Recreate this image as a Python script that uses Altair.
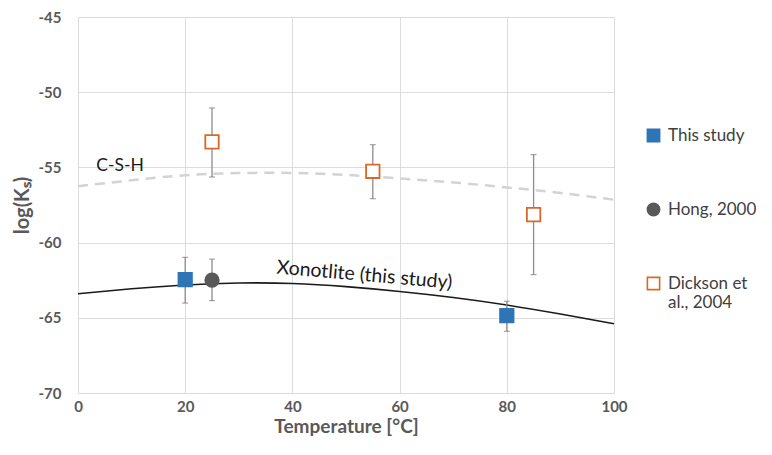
import altair as alt
import pandas as pd

# Model curves
curve_temp = [0, 10, 20, 30, 40, 50, 60, 70, 80, 90, 100]
xonotlite_logk = [-63.4, -63.07, -62.82, -62.69, -62.72, -62.93, -63.25, -63.65, -64.15, -64.75, -65.4]
csh_logk = [-56.25, -55.86, -55.52, -55.38, -55.37, -55.5, -55.74, -56.0, -56.33, -56.7, -57.15]

# Measured data
pt_series = ["This study", "This study", "Hong, 2000",
             "Dickson et al., 2004", "Dickson et al., 2004", "Dickson et al., 2004"]
pt_temp = [20, 80, 25, 25, 55, 85]
pt_logk = [-62.46, -64.86, -62.5, -53.3, -55.26, -58.14]
pt_lo = [-64.02, -65.9, -63.86, -55.64, -57.08, -62.13]
pt_hi = [-60.98, -63.9, -61.1, -51.05, -53.49, -54.15]

series_order = ["This study", "Hong, 2000", "Dickson et al., 2004"]
fills = ["#2e75b6", "#595959", "#ffffff"]
strokes = ["#2e75b6", "#595959", "#d9692b"]
shapes = ["square", "circle", "square"]

# Text labels
csh_label = {"text": "C-S-H", "T": 3.4, "y": -54.9}
xon_label = {"text": "Xonotlite (this study)", "T": 37.1, "y": -61.65}

curves = pd.DataFrame({"T": curve_temp, "xon": xonotlite_logk, "csh": csh_logk})
pts = pd.DataFrame({"series": pt_series, "T": pt_temp, "logk": pt_logk, "lo": pt_lo, "hi": pt_hi})

FONT = "Lato"

xscale = alt.Scale(domain=[0, 100], nice=False, zero=False)
yscale = alt.Scale(domain=[-70, -45], nice=False, zero=False)

xaxis = alt.Axis(values=[0, 20, 40, 60, 80, 100], title="Temperature [°C]", grid=True,
                 ticks=False, domain=False, labelPadding=6, titlePadding=3,
                 titleFontSize=19, labelFlush=False, labelExpr="'' + datum.value")
yaxis = alt.Axis(values=[-70, -65, -60, -55, -50, -45], title="log(Kₛ)", grid=True,
                 ticks=False, domain=False, labelPadding=17, titlePadding=6,
                 titleFontSize=20, labelFlush=False, labelExpr="'' + datum.value")

base_x = alt.X("T:Q", scale=xscale, axis=xaxis)

csh_line = alt.Chart(curves).mark_line(
    color="#d3d3d3", strokeWidth=2.5, strokeDash=[10, 7], interpolate="natural"
).encode(x=base_x, y=alt.Y("csh:Q", scale=yscale, axis=yaxis))

xon_line = alt.Chart(curves).mark_line(
    color="#1a1a1a", strokeWidth=1.6, interpolate="natural"
).encode(x=alt.X("T:Q", scale=xscale), y=alt.Y("xon:Q", scale=yscale))

err_rule = alt.Chart(pts).mark_rule(color="#8c8c8c", strokeWidth=1.3).encode(
    x=alt.X("T:Q", scale=xscale), y=alt.Y("lo:Q", scale=yscale), y2="hi:Q"
)
cap_lo = alt.Chart(pts).mark_tick(color="#7f7f7f", orient="horizontal", size=6, thickness=1.2).encode(
    x=alt.X("T:Q", scale=xscale), y=alt.Y("lo:Q", scale=yscale)
)
cap_hi = alt.Chart(pts).mark_tick(color="#7f7f7f", orient="horizontal", size=6, thickness=1.2).encode(
    x=alt.X("T:Q", scale=xscale), y=alt.Y("hi:Q", scale=yscale)
)

legend = alt.Legend(
    title=None, orient="none", legendX=567, legendY=110, rowPadding=55,
    labelFont=FONT, labelFontSize=17, labelColor="#404040", symbolSize=150,
    labelExpr="datum.label == 'Dickson et al., 2004' ? ['Dickson et', 'al., 2004'] : datum.label",
    labelLimit=200, symbolStrokeWidth=1.6, labelOffset=6,
)

points = alt.Chart(pts).mark_point(size=180, strokeWidth=1.8, opacity=1).encode(
    x=alt.X("T:Q", scale=xscale),
    y=alt.Y("logk:Q", scale=yscale),
    shape=alt.Shape("series:N", scale=alt.Scale(domain=series_order, range=shapes), legend=legend),
    fill=alt.Fill("series:N", scale=alt.Scale(domain=series_order, range=fills), legend=legend),
    stroke=alt.Stroke("series:N", scale=alt.Scale(domain=series_order, range=strokes), legend=legend),
)

csh_text = alt.Chart(pd.DataFrame([csh_label])).mark_text(
    font=FONT, fontSize=17.5, color="#1a1a1a", align="left", baseline="middle"
).encode(x=alt.X("T:Q", scale=xscale), y=alt.Y("y:Q", scale=yscale), text="text:N")

xon_text = alt.Chart(pd.DataFrame([xon_label])).mark_text(
    font=FONT, fontSize=19.5, color="#1a1a1a", align="left", baseline="middle", angle=5
).encode(x=alt.X("T:Q", scale=xscale), y=alt.Y("y:Q", scale=yscale), text="text:N")

chart = alt.layer(csh_line, xon_line, err_rule, cap_lo, cap_hi, points, csh_text, xon_text).properties(
    width=536, height=376,
    autosize=alt.AutoSizeParams(type="none"),
    padding={"left": 70, "top": 9, "right": 142, "bottom": 54},
).configure_axis(
    labelFont=FONT, labelFontSize=15, labelFontWeight="bold", labelColor="#595959",
    titleFont=FONT, titleFontWeight="bold", titleColor="#595959",
    gridColor="#dcdcdc", gridWidth=1,
).configure_view(stroke=None)

chart.save("out.html", embed_options={"renderer": "svg", "actions": False})
